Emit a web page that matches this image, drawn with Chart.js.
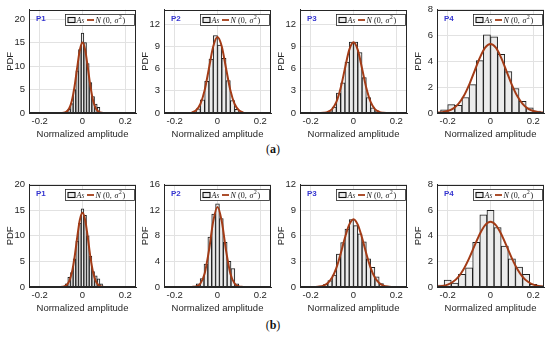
<!DOCTYPE html>
<html><head><meta charset="utf-8">
<script src="https://cdn.jsdelivr.net/npm/chart.js@4.4.1/dist/chart.umd.min.js"></script>
<style>
html,body{margin:0;padding:0;background:#fff;}
body{width:550px;height:338px;position:relative;overflow:hidden;font-family:"Liberation Sans",Arial,sans-serif;}
canvas{position:absolute;}
.cap{position:absolute;left:0;width:550px;text-align:center;font-family:"Liberation Serif","Times New Roman",serif;font-size:12px;color:#111;line-height:14px;}
.cap b{font-weight:bold;}
</style></head><body>
<div class="cap" style="left:-2px;top:142px">(<b>a</b>)</div>
<div class="cap" style="left:-2px;top:318px">(<b>b</b>)</div>
<script>
// ---------- DATA ----------
const panelNames = ["P1", "P2", "P3", "P4"];
const yTicksA = [[0,5,10,15,20],[0,3,6,9,12],[0,3,6,9,12],[0,2,4,6,8]];
const yMaxA = [22, 14, 14, 8];
const yTicksB = [[0,5,10,15,20],[0,4,8,12,16],[0,3,6,9,12],[0,2,4,6,8]];
const yMaxB = [20, 16, 12, 8];
const xTicks = [-0.2, 0, 0.2];
const xLabel = "Normalized amplitude";
const yLabel = "PDF";

// histogram bin centres and pdf heights
const p1aBins = [-0.075,-0.0625,-0.05,-0.0375,-0.025,-0.0125,0,0.0125,0.025,0.0375,0.05,0.0625,0.075,0.0875];
const p1aHist = [0.3,0.8,2.0,5.0,9.0,13.5,17.0,15.0,10.5,6.5,3.5,1.9,1.2,0.2];
const p2aBins = [-0.11,-0.09,-0.07,-0.05,-0.03,-0.01,0.01,0.03,0.05,0.07,0.09,0.11];
const p2aHist = [0.1,0.55,1.8,4.3,7.3,10.5,9.2,7.4,4.4,1.7,0.5,0.1];
const p3aBins = [-0.13,-0.11,-0.09,-0.07,-0.05,-0.03,-0.01,0.01,0.03,0.05,0.07,0.09,0.11,0.13];
const p3aHist = [0.05,0.2,0.8,2.7,4.1,6.9,9.6,9.6,8.2,4.8,2.1,0.7,0.3,0.05];
const p4aBins = [-0.2167,-0.1833,-0.15,-0.1167,-0.0833,-0.05,-0.0167,0.0167,0.05,0.0833,0.1167,0.15,0.1833,0.2167];
const p4aHist = [0.25,0.65,0.6,1.2,2.2,4.05,6.05,5.9,4.55,3.2,1.9,0.9,0.4,0.15];

const p1bBins = [-0.0875,-0.075,-0.0625,-0.05,-0.0375,-0.025,-0.0125,0,0.0125,0.025,0.0375,0.05,0.0625,0.075,0.0875,0.1];
const p1bHist = [0.15,0.6,1.9,2.8,5.5,9.0,12.5,15.3,14.0,10.0,6.0,3.0,2.2,1.6,0.6,0.1];
const p2bBins = [-0.108,-0.09,-0.072,-0.054,-0.036,-0.018,0,0.018,0.036,0.054,0.072,0.09,0.108];
const p2bHist = [0.15,0.5,1.3,3.6,7.8,11.4,13.0,10.7,7.0,4.0,2.9,0.5,0.1];
const p3bBins = [-0.15,-0.13,-0.11,-0.09,-0.07,-0.05,-0.03,-0.01,0.01,0.03,0.05,0.07,0.09,0.11,0.13,0.15];
const p3bHist = [0.1,0.3,0.75,1.4,3.85,5.2,6.8,7.9,7.2,6.25,5.3,3.3,2.3,1.2,0.4,0.1];
const p4bBins = [-0.2333,-0.2,-0.1667,-0.1333,-0.1,-0.0667,-0.0333,0,0.0333,0.0667,0.1,0.1333,0.1667,0.2,0.2333];
const p4bHist = [0.15,0.55,0.3,1.0,1.5,3.5,5.65,6.0,4.65,3.2,2.2,1.55,1.0,0.2,0.1];

const curveX1 = [-0.1,-0.0875,-0.075,-0.0625,-0.05,-0.0375,-0.025,-0.0125,0,0.0125,0.025,0.0375,0.05,0.0625,0.075,0.0875,0.1];
const curveX2 = [-0.12,-0.1,-0.08,-0.06,-0.04,-0.02,0,0.02,0.04,0.06,0.08,0.1,0.12];
const curveX3 = [-0.16,-0.14,-0.12,-0.1,-0.08,-0.06,-0.04,-0.02,0,0.02,0.04,0.06,0.08,0.1,0.12,0.14,0.16];
const curveX3b = [-0.2,-0.18,-0.16,-0.14,-0.12,-0.1,-0.08,-0.06,-0.04,-0.02,0,0.02,0.04,0.06,0.08,0.1,0.12,0.14,0.16,0.18,0.2];
const curveX4 = [-0.25,-0.225,-0.2,-0.175,-0.15,-0.125,-0.1,-0.075,-0.05,-0.025,0,0.025,0.05,0.075,0.1,0.125,0.15,0.175,0.2,0.225,0.25];

const p1aCurve = [0.01,0.07,0.28,0.95,2.56,5.55,9.6,13.4,15.0,13.4,9.6,5.55,2.56,0.95,0.28,0.07,0.01];
const p2aCurve = [0.08,0.37,1.22,3.1,6.04,9.01,10.3,9.01,6.04,3.1,1.22,0.37,0.08];
const p3aCurve = [0.0,0.03,0.15,0.53,1.5,3.38,6.03,8.55,9.6,8.55,6.03,3.38,1.5,0.53,0.15,0.03,0.0];
const p4aCurve = [0.02,0.06,0.15,0.34,0.71,1.31,2.18,3.23,4.27,5.06,5.35,5.06,4.27,3.23,2.18,1.31,0.71,0.34,0.15,0.06,0.02];
const p1bCurve = [0.02,0.09,0.35,1.1,2.77,5.7,9.6,13.1,14.5,13.1,9.6,5.7,2.77,1.1,0.35,0.09,0.02];
const p2bCurve = [0.01,0.09,0.54,2.13,5.7,10.27,12.5,10.27,5.7,2.13,0.54,0.09,0.01];
const p3bCurve = [0.0,0.01,0.05,0.17,0.47,1.11,2.25,3.9,5.77,7.31,7.95,7.31,5.77,3.9,2.25,1.11,0.47,0.17,0.05,0.01,0.0];
const p4bCurve = [0.03,0.08,0.19,0.41,0.8,1.41,2.24,3.21,4.15,4.84,5.1,4.84,4.15,3.21,2.24,1.41,0.8,0.41,0.19,0.08,0.03];

// ---------- LAYOUT / STYLE ----------
const plotLefts = [29, 164, 300, 437];
const plotW = 107;
const rows = [
  {top: 6, h: 107, ticks: yTicksA, max: yMaxA,
   bins: [p1aBins,p2aBins,p3aBins,p4aBins], hist: [p1aHist,p2aHist,p3aHist,p4aHist],
   cx: [curveX1,curveX2,curveX3,curveX4], cy: [p1aCurve,p2aCurve,p3aCurve,p4aCurve]},
  {top: 181, h: 106, ticks: yTicksB, max: yMaxB,
   bins: [p1bBins,p2bBins,p3bBins,p4bBins], hist: [p1bHist,p2bHist,p3bHist,p4bHist],
   cx: [curveX1,curveX2,curveX3b,curveX4], cy: [p1bCurve,p2bCurve,p3bCurve,p4bCurve]}
];
const AXC = '#262626', GRID = '#e2e2e2', BAR = '#ebebeb', BARB = '#1e1e1e', CURVE = '#a33b16', PCOL = '#3535d0';
const LEFTW = 29, PADT = 6, BOTH = 33, PADR = 3;

const framePlugin = {
  id: 'frame',
  afterDatasetsDraw(chart, args, opts) {
    const {ctx, chartArea: a} = chart;
    ctx.save();
    ctx.strokeStyle = AXC; ctx.lineWidth = 1;
    ctx.strokeRect(Math.round(a.left) + 0.5, Math.round(a.top) + 0.5, Math.round(a.right - a.left) - 1, Math.round(a.bottom - a.top) - 1);
    ctx.fillStyle = PCOL; ctx.font = 'bold 8px "Liberation Sans", Arial, sans-serif';
    ctx.textBaseline = 'middle'; ctx.textAlign = 'left';
    ctx.fillText(opts.name, a.left + 7, a.top + 9.5);
    const bx = Math.round(a.left + 36) + 0.5, by = Math.round(a.top + 4) + 0.5;
    const bw = Math.round(a.right - 2 - bx), bh = 11;
    ctx.fillStyle = '#fff'; ctx.fillRect(bx, by, bw, bh);
    ctx.strokeStyle = AXC; ctx.lineWidth = 0.8; ctx.strokeRect(bx, by, bw, bh);
    const my = by + bh / 2;
    ctx.fillStyle = BAR; ctx.fillRect(bx + 2.5, my - 2.5, 7, 5);
    ctx.strokeStyle = '#111'; ctx.lineWidth = 1.1; ctx.strokeRect(bx + 2.5, my - 2.5, 7, 5);
    ctx.fillStyle = '#111';
    ctx.font = 'italic 8px "Liberation Serif", serif';
    ctx.fillText('A', bx + 11, my + 0.5);
    ctx.font = 'italic 5.5px "Liberation Serif", serif';
    ctx.fillText('S', bx + 16, my + 2);
    ctx.strokeStyle = CURVE; ctx.lineWidth = 1.8;
    ctx.beginPath(); ctx.moveTo(bx + 21.5, my); ctx.lineTo(bx + 28.5, my); ctx.stroke();
    ctx.fillStyle = '#111';
    ctx.font = 'italic 8px "Liberation Serif", serif';
    ctx.fillText('N', bx + 30, my + 0.5);
    ctx.font = '8px "Liberation Serif", serif';
    ctx.fillText('(0,', bx + 37.5, my + 0.5);
    ctx.font = 'italic 8px "Liberation Serif", serif';
    ctx.fillText('σ', bx + 49, my + 0.5);
    ctx.font = '5.5px "Liberation Serif", serif';
    ctx.fillText('2', bx + 53.5, my - 2);
    ctx.font = '8px "Liberation Serif", serif';
    ctx.fillText(')', bx + 57, my + 0.5);
    ctx.restore();
  }
};

rows.forEach((row) => {
  plotLefts.forEach((pl, i) => {
    const cv = document.createElement('canvas');
    const W = LEFTW + plotW + PADR, H = PADT + row.h + BOTH;
    cv.width = W; cv.height = H;
    cv.style.left = (pl - LEFTW) + 'px';
    cv.style.top = (row.top - PADT) + 'px';
    cv.style.width = W + 'px'; cv.style.height = H + 'px';
    document.body.appendChild(cv);
    const bins = row.bins[i], hist = row.hist[i];
    const ticksY = row.ticks[i];
    new Chart(cv, {
      type: 'bar',
      data: {
        datasets: [
          { type: 'line', order: 0, data: row.cx[i].map((x, k) => ({x, y: row.cy[i][k]})),
            borderColor: CURVE, borderWidth: 2, pointRadius: 0, fill: false,
            cubicInterpolationMode: 'monotone' },
          { type: 'bar', order: 1, data: bins.map((x, k) => ({x, y: hist[k]})),
            backgroundColor: BAR, borderColor: BARB,
            borderWidth: {top: 1, left: 1, bottom: 0, right: 1},
            borderSkipped: 'start', barPercentage: 1, categoryPercentage: 1 }
        ]
      },
      options: {
        responsive: false, animation: false, devicePixelRatio: 1,
        layout: { padding: { top: PADT, right: PADR, left: 0, bottom: 0 } },
        plugins: { legend: { display: false }, tooltip: { enabled: false }, frame: { name: panelNames[i] } },
        scales: {
          x: {
            type: 'linear', min: -0.25, max: 0.25, offset: false,
            afterBuildTicks: (s) => { s.ticks = xTicks.map(v => ({value: v})); },
            afterFit: (s) => { s.height = BOTH; },
            grid: { color: GRID, drawTicks: false, offset: false },
            border: { color: AXC, width: 1 },
            ticks: { color: AXC, font: { size: 9.5, family: '"Liberation Sans", Arial, sans-serif' }, padding: 3,
                     maxRotation: 0, callback: (v) => (v === 0 ? '0' : String(v)) },
            title: { display: true, text: xLabel, color: AXC, font: { size: 9.5, family: '"Liberation Sans", Arial, sans-serif' }, padding: { top: 0, bottom: 6 } }
          },
          y: {
            type: 'linear', min: 0, max: row.max[i],
            afterBuildTicks: (s) => { s.ticks = ticksY.map(v => ({value: v})); },
            afterFit: (s) => { s.width = LEFTW; },
            grid: { color: GRID, drawTicks: false },
            border: { color: AXC, width: 1 },
            ticks: { color: AXC, font: { size: 9.5, family: '"Liberation Sans", Arial, sans-serif' }, padding: 4 },
            title: { display: true, text: yLabel, color: AXC, font: { size: 9.5, family: '"Liberation Sans", Arial, sans-serif' }, padding: { top: 5, bottom: 0 } }
          }
        }
      },
      plugins: [framePlugin]
    });
  });
});
</script>
</body></html>
